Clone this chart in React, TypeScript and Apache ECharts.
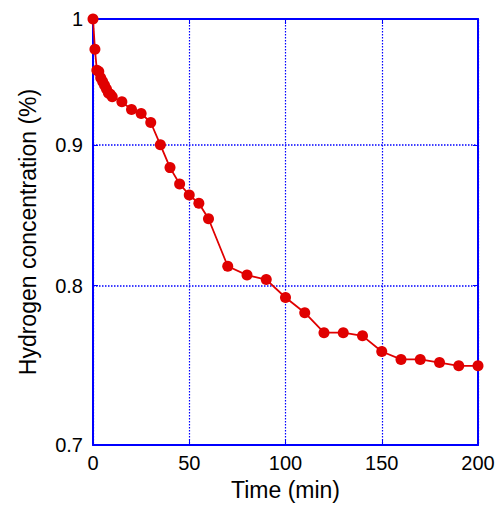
import React, { useEffect, useRef } from "react";
import * as echarts from "echarts";

// Sampling times (min) and measured hydrogen concentration (%)
const times: number[] = [
  0, 1, 2, 3, 4, 5, 6, 7, 8, 9, 10, 15, 20, 25, 30, 35, 40, 45, 50, 55, 60,
  70, 80, 90, 100, 110, 120, 130, 140, 150, 160, 170, 180, 190, 200,
];
const concentration: number[] = [
  1.0, 0.975, 0.958, 0.957, 0.952, 0.949, 0.946, 0.943, 0.94, 0.939, 0.937,
  0.933, 0.927, 0.924, 0.917, 0.9, 0.883, 0.871, 0.863, 0.857, 0.846, 0.813,
  0.807, 0.804, 0.792, 0.782, 0.769, 0.769, 0.767, 0.757, 0.752, 0.752, 0.75,
  0.748, 0.748,
];

// Logarithmic concentration axis: ticks and range
const yTicks: number[] = [0.7, 0.8, 0.9, 1];
const xTicks: number[] = [0, 50, 100, 150, 200];

const FONT = "Arial, 'Liberation Sans', sans-serif";
const BLUE = "#0000ff";
const RED = "#e00000";

const lg = (v: number) => Math.log10(v);

export default function App() {
  const ref = useRef<HTMLDivElement>(null);

  useEffect(() => {
    if (!ref.current) return;
    const chart = echarts.init(ref.current, undefined, { renderer: "svg" });

    const yLogTicks = yTicks.map(lg);
    const fmtY = (v: number) => String(Math.round(Math.pow(10, v) * 10) / 10);

    const axisLine = { show: true, onZero: false, lineStyle: { color: BLUE, width: 2 } };
    const tickIn = { show: true, inside: true, length: 5, lineStyle: { color: BLUE, width: 1 } };
    const gridStyle = { color: BLUE, type: [1.5, 1.5], width: 1.2, opacity: 1 };

    const yBase = {
      type: "value" as const,
      min: lg(yTicks[0]),
      max: lg(yTicks[yTicks.length - 1]),
    };
    const xBase = {
      type: "value" as const,
      min: xTicks[0],
      max: xTicks[xTicks.length - 1],
      interval: 50,
    };

    chart.setOption({
      animation: false,
      backgroundColor: "#ffffff",
      grid: { left: 93, right: 21, top: 19, bottom: 60, containLabel: false },
      xAxis: [
        {
          ...xBase,
          position: "bottom",
          name: "Time (min)",
          nameLocation: "middle",
          nameGap: 33,
          nameTextStyle: { fontFamily: FONT, fontSize: 23, color: "#000" },
          axisLine,
          axisTick: tickIn,
          splitLine: { show: true, lineStyle: gridStyle },
          axisLabel: { fontFamily: FONT, fontSize: 20, color: "#000", margin: 8 },
        },
        {
          ...xBase,
          position: "top",
          axisLine,
          axisTick: tickIn,
          splitLine: { show: false },
          axisLabel: { show: false },
        },
      ],
      yAxis: [
        {
          ...yBase,
          position: "left",
          name: "Hydrogen concentration (%)",
          nameLocation: "middle",
          nameGap: 54,
          nameTextStyle: { fontFamily: FONT, fontSize: 23, color: "#000" },
          axisLine,
          axisTick: { ...tickIn, customValues: yLogTicks },
          splitLine: { show: true, lineStyle: { ...gridStyle, width: 1.6 } },
          axisLabel: {
            fontFamily: FONT,
            fontSize: 20,
            color: "#000",
            margin: 10,
            customValues: yLogTicks,
            formatter: fmtY,
          },
        },
        {
          ...yBase,
          position: "right",
          axisLine,
          axisTick: { ...tickIn, customValues: yLogTicks },
          splitLine: { show: false },
          axisLabel: { show: false },
        },
      ],
      series: [
        {
          type: "line",
          xAxisIndex: 0,
          yAxisIndex: 0,
          data: times.map((t, i) => [t, lg(concentration[i])]),
          symbol: "circle",
          symbolSize: 11,
          clip: false,
          lineStyle: { color: RED, width: 1.8 },
          itemStyle: { color: RED },
          z: 5,
        },
      ],
    });

    return () => chart.dispose();
  }, []);

  return (
    <div
      ref={ref}
      style={{ position: "absolute", left: 0, top: 0, width: 499, height: 506 }}
    />
  );
}
